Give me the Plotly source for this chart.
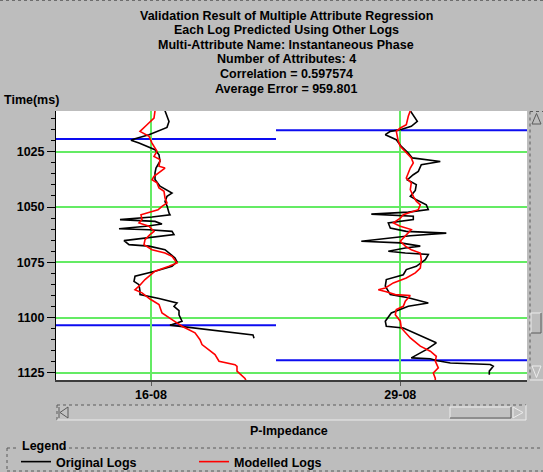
import plotly.graph_objects as go

# ---------------------------------------------------------------- data
WELLS = ["16-08", "29-08"]

# well 16-08 : original log (time ms, impedance deviation from track centre)
L_ORIG_T = [1006.5, 1011.3, 1014, 1017.3, 1019.1, 1019.8, 1021.1, 1024.1, 1026.4, 1029.3,
            1032.4, 1034.6, 1037.6, 1040.6, 1043.7, 1045.2, 1047.5, 1049.5, 1052.7, 1053.5,
            1054.5, 1055.7, 1056.5, 1057.7, 1058.7, 1059.8, 1060.3, 1061, 1062.5, 1063.5,
            1065.2, 1067, 1067.7, 1069.3, 1070.8, 1073, 1074.8, 1076.8, 1079, 1081.3,
            1083.6, 1085.1, 1088.1, 1089.6, 1091.4, 1092.9, 1093.4, 1094.9, 1096.8, 1098.7,
            1101.6, 1103.4, 1107.8, 1109.3]
L_ORIG_V = [14, 18, 16, -2, -16, -20, -12, 4, 8, 9,
            5, 4, 4, 9, 21, 16, 14, 16, 18, 19,
            1, -31, 4, 11, -5, -32, -2, 21, 23, 5,
            -27, -22, -2, 14, 18, 24, 26, 21, 4, -16,
            -17, -12, -11, -11, 8, 21, 26, 23, 28, 28,
            31, 19, 102, 103]

# well 16-08 : modelled log
L_MOD_T = [1006.5, 1009.8, 1012.8, 1015.8, 1018, 1021.1, 1024.8, 1027.1, 1028.6, 1031.6,
           1032.4, 1036.1, 1037.7, 1039.1, 1041.4, 1042.9, 1045.9, 1048.2, 1049.7, 1051.3,
           1052.7, 1053.5, 1055.7, 1057.2, 1058.7, 1061, 1062.5, 1064.8, 1067, 1069.3,
           1070.8, 1072.3, 1075.3, 1076.8, 1079, 1082.8, 1085.8, 1087.4, 1088.8, 1091.6,
           1094.1, 1097.9, 1100.9, 1103.9, 1106.9, 1110, 1112.2, 1116.7, 1119.7, 1121.3,
           1122, 1124.2, 1127.5, 1128.5]
L_MOD_V = [4, 3, -4, -11, -2, 1, 6, 3, 9, 8,
           14, 3, 1, 6, 8, 13, 14, 16, 11, 7,
           -4, -10, -9, -12, -2, 3, -1, -6, -7, 1,
           14, 21, 26, 18, 4, -6, -12, -16, -9, -1,
           8, 11, 21, 31, 44, 49, 51, 64, 68, 84,
           86, 86, 94, 95]

# well 29-08 : original log
R_ORIG_T = [1006.5, 1011.3, 1013.5, 1015.1, 1015.8, 1017.3, 1019.6, 1022.6, 1025.6, 1027.8,
            1029.4, 1030.9, 1033.9, 1035.4, 1037.7, 1039.9, 1042.5, 1045.2, 1046.7, 1049,
            1051.2, 1052.3, 1053.2, 1054.2, 1055.7, 1057.2, 1059.5, 1061, 1061.8, 1063,
            1065.5, 1066.2, 1067.7, 1068.5, 1070, 1070.8, 1071.5, 1073.8, 1076.8, 1078.3,
            1080.6, 1082.8, 1085.8, 1088.1, 1089.6, 1091, 1093.4, 1094.9, 1097.9, 1101.6,
            1103.9, 1104.7, 1106.2, 1111.4, 1114.5, 1118.2, 1118.6, 1119.4, 1120.5, 1121.2,
            1122, 1124.2, 1125.8]
R_ORIG_V = [10, 17, 11, 0, -10, -15, -4, 1, 8, 12,
            40, 21, 18, 13, 7, 16, 15, 10, 16, 26,
            28, 8, -29, 13, 13, -12, -10, 6, 46, 10,
            -39, 0, 20, 5, -12, 5, 28, 25, 16, 6,
            3, -14, -15, -12, -10, 8, 28, 8, -9, -15,
            -14, 3, 10, 36, 26, 11, 30, 36, 50, 90,
            93, 89, 89]

# well 29-08 : modelled log
R_MOD_T = [1006.5, 1009, 1012.8, 1014.3, 1015.8, 1020.3, 1022.6, 1024.8, 1026.4, 1027.8,
           1030.1, 1032.4, 1034.6, 1036.9, 1039.1, 1042.2, 1045.2, 1047.4, 1049, 1051.2,
           1053.5, 1055, 1057.2, 1058.7, 1060.2, 1062.5, 1065.5, 1067.7, 1069.3, 1070.8,
           1073.8, 1077.6, 1079.8, 1082.1, 1084.3, 1086.6, 1087.4, 1088.3, 1089.6, 1090,
           1092.6, 1094.9, 1096.4, 1098.7, 1101.6, 1104.7, 1109.2, 1112.9, 1115.2, 1117.5,
           1119.7, 1122.7, 1125, 1127.5, 1128.5]
R_MOD_V = [10, 8, 6, 0, -4, -2, 0, 5, 8, 11,
           13, 10, 8, 6, 11, 10, 13, 16, 20, 18,
           3, 0, -7, 0, 11, 6, 0, 5, 11, 20,
           21, 20, 15, 6, -7, -15, -22, -14, -5, 10,
           5, 3, -4, -5, 0, 1, 10, 20, 30, 36,
           35, 38, 33, 35, 35]

# analysis-window horizons (ms) per well
HORIZONS = [[1019.3, 1103.5], [1015.3, 1119.3]]

TITLE_LINES = [
    "Validation Result of Multiple Attribute Regression",
    "Each Log Predicted Using Other Logs",
    "Multi-Attribute Name: Instantaneous Phase",
    "Number of Attributes: 4",
    "Correlation = 0.597574",
    "Average Error = 959.801",
]

for t, v in [(L_ORIG_T, L_ORIG_V), (L_MOD_T, L_MOD_V), (R_ORIG_T, R_ORIG_V), (R_MOD_T, R_MOD_V)]:
    assert len(t) == len(v)

# ---------------------------------------------------------------- layout helpers
W, H = 543, 472
ML, MR, MT, MB = 56, 16, 111, 92
PW, PH = W - ML - MR, H - MT - MB

BG = "#bdbdbd"
GREEN = "#64eb64"
BLUE = "#0c0cf0"
DARK = "#5a5a5a"
LIGHT = "#ececec"
FONT = "Liberation Sans"


def fx(px):
    return (px - ML) / PW


def fy(py):
    return (H - MB - py) / PH


def line_px(x0, y0, x1, y1, color=DARK, width=1, dash="solid"):
    return dict(type="line", xref="paper", yref="paper",
                x0=fx(x0), x1=fx(x1), y0=fy(y0), y1=fy(y1),
                line=dict(color=color, width=width, dash=dash), layer="above")


def rect_px(x0, y0, x1, y1, fill=BG, color=DARK, width=1):
    return dict(type="rect", xref="paper", yref="paper",
                x0=fx(x0), x1=fx(x1), y0=fy(y1), y1=fy(y0),
                fillcolor=fill, line=dict(color=color, width=width), layer="above")


def path_px(points, color=DARK, width=1, closed=True):
    d = "M " + " L ".join(f"{fx(x):.5f},{fy(y):.5f}" for x, y in points)
    if closed:
        d += " Z"
    return dict(type="path", xref="paper", yref="paper", path=d,
                line=dict(color=color, width=width), layer="above")


def text_px(x, y, s, xanchor="center", size=12.5):
    return dict(xref="paper", yref="paper", x=fx(x), y=fy(y), text=s, showarrow=False,
                xanchor=xanchor, yanchor="middle",
                font=dict(family=FONT, size=size, color="black", weight="bold"))


# ---------------------------------------------------------------- figure
fig = go.Figure()

split = (276 - ML) / PW
xaxes = ["x", "x2"]
ranges = [[-95, 125], [-124.3, 126.7]]
series = [(L_ORIG_T, L_ORIG_V, L_MOD_T, L_MOD_V), (R_ORIG_T, R_ORIG_V, R_MOD_T, R_MOD_V)]

for i, (ot, ov, mt, mv) in enumerate(series):
    fig.add_trace(go.Scatter(x=ov, y=ot, xaxis=xaxes[i], yaxis="y", mode="lines",
                             line=dict(color="black", width=1.6),
                             name="Original Logs", legendgroup="orig", showlegend=(i == 0)))
    fig.add_trace(go.Scatter(x=mv, y=mt, xaxis=xaxes[i], yaxis="y", mode="lines",
                             line=dict(color="#ff0000", width=1.6),
                             name="Modelled Logs", legendgroup="mod", showlegend=(i == 0)))

shapes = []
for i, hz in enumerate(HORIZONS):
    for t in hz:
        shapes.append(dict(type="line", xref=f"{xaxes[i]} domain", yref="y",
                           x0=0, x1=1, y0=t, y1=t, layer="below",
                           line=dict(color=BLUE, width=2)))

# page frame line
shapes.append(line_px(0, 0.5, W, 0.5, color="#6e6e6e", width=1, dash="dot"))

# horizontal scroll bar under the tracks
shapes.append(rect_px(57, 405, 526, 420, fill="#c2c2c2", color=BG, width=0))
shapes.append(line_px(57, 405, 526, 405, color=DARK, dash="dot"))
shapes.append(line_px(57, 405, 57, 420, color=DARK, dash="dot"))
shapes.append(line_px(57, 420, 526, 420, color=LIGHT))
shapes.append(line_px(526, 405, 526, 420, color=LIGHT))
shapes.append(line_px(59, 407, 59, 418, color=DARK))
shapes.append(path_px([(68, 407), (60, 412.5), (68, 418)], color=DARK))
shapes.append(line_px(450, 407, 511, 407, color=LIGHT))
shapes.append(line_px(450, 407, 450, 418, color=LIGHT))
shapes.append(line_px(450, 418, 511, 418, color=DARK))
shapes.append(line_px(511, 407, 511, 418, color=DARK))
shapes.append(path_px([(513, 407), (523, 412.5), (513, 418)], color=LIGHT))

# vertical scroll bar at the right
shapes.append(line_px(530, 111.5, 530, 380, color=DARK, dash="dot"))
shapes.append(line_px(530, 111.5, 543, 111.5, color=DARK, dash="dot"))
shapes.append(line_px(530, 380, 543, 380, color=LIGHT))
shapes.append(path_px([(532, 124), (536.5, 113.5), (541, 124)], color=DARK))
shapes.append(line_px(531, 313, 541, 313, color=LIGHT))
shapes.append(line_px(531, 313, 531, 333, color=LIGHT))
shapes.append(line_px(531, 333, 541, 333, color=DARK))
shapes.append(line_px(541, 313, 541, 333, color=DARK))
shapes.append(path_px([(532, 366), (536.5, 377.5), (541, 366)], color=LIGHT))

# legend frame
shapes.append(line_px(7, 448, 18, 448, color=DARK, dash="dot"))
shapes.append(line_px(63, 448, W, 448, color=DARK, dash="dot"))
shapes.append(line_px(7, 448, 7, 471, color=DARK, dash="dot"))
shapes.append(line_px(7, 471, W, 471, color=DARK, dash="dot"))

annotations = []
for k, s in enumerate(TITLE_LINES):
    annotations.append(text_px(286, 15.6 + 14.6 * k, s))
annotations.append(text_px(2, 100, "Time(ms)", xanchor="left"))
annotations.append(text_px(289, 431, "P-Impedance"))
annotations.append(text_px(20, 446, "Legend", xanchor="left"))

tickfont = dict(family=FONT, size=12.5, color="black", weight="bold")


def track_axis(dom, rng, label):
    return dict(domain=dom, range=rng, tickmode="array", tickvals=[0], ticktext=[label],
                ticks="outside", ticklen=4, tickwidth=1, tickcolor=DARK,
                showline=True, linecolor="#3c3c3c", linewidth=2,
                showgrid=True, gridcolor=GREEN, gridwidth=1.5,
                zeroline=False, anchor="y", tickfont=tickfont, fixedrange=True,
                ticklabelstandoff=-2)


fig.update_layout(
    width=W, height=H, autosize=False,
    margin=dict(l=ML, r=MR, t=MT, b=MB, pad=0, autoexpand=False),
    paper_bgcolor=BG, plot_bgcolor="white",
    xaxis=track_axis([0, split], ranges[0], WELLS[0]),
    xaxis2=track_axis([split, 1], ranges[1], WELLS[1]),
    yaxis=dict(range=[1128.2, 1006.6], tickmode="linear", tick0=1025, dtick=25,
               ticks="outside", ticklen=8, tickwidth=1, tickcolor="black",
               showline=True, linecolor="black", linewidth=1,
               showgrid=True, gridcolor=GREEN, gridwidth=1.5, zeroline=False,
               minor=dict(dtick=5, tick0=1000, ticks="outside", ticklen=4,
                          tickcolor="black", showgrid=False),
               tickfont=tickfont, fixedrange=True),
    legend=dict(orientation="h", x=fx(16), y=fy(462), xanchor="left", yanchor="middle",
                bgcolor="rgba(0,0,0,0)", borderwidth=0,
                font=dict(family=FONT, size=12.5, color="black", weight="bold"),
                entrywidth=133, entrywidthmode="pixels", itemclick=False, itemdoubleclick=False),
    showlegend=True,
    shapes=shapes,
    annotations=annotations,
)

fig.write_html("out.html")
